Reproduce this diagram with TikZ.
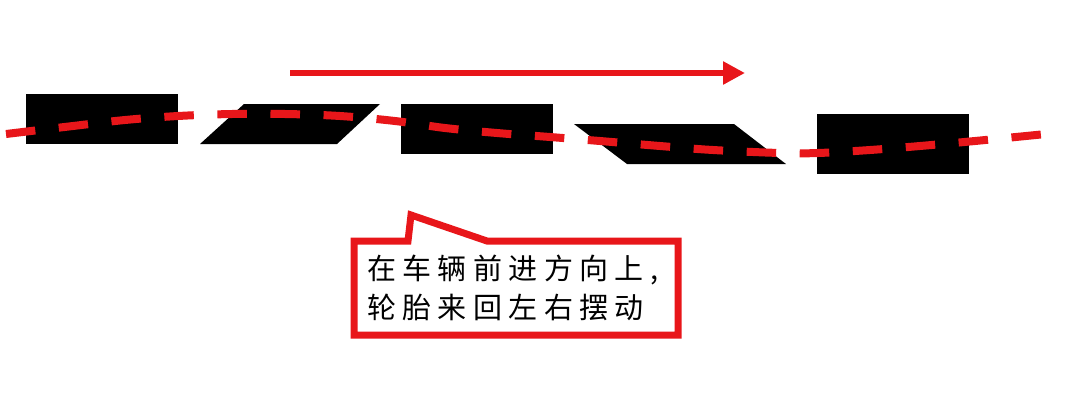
\documentclass[tikz,border=0pt]{standalone}
\usepackage{fontspec}
\newfontfamily\cjk[LetterSpace=22]{Noto Sans CJK SC}
\usetikzlibrary{arrows.meta}
\definecolor{myred}{RGB}{232,22,26}
\tikzset{
  tire/.style={fill=black},
  wave/.style={draw=myred, line width=8pt, dash pattern=on 29.5pt off 23.6pt},
  dirarrow/.style={draw=myred, line width=6.5pt, -{Triangle[length=22pt,width=22pt]}},
  callout/.style={draw=myred, fill=white, line width=7pt, line join=miter},
  calltext/.style={font=\cjk\fontsize{29}{39}\selectfont, align=left, anchor=north west, inner sep=0pt}
}
\begin{document}
\begin{tikzpicture}[x=1pt,y=-1pt]
\useasboundingbox (0,0) rectangle (1080,416);
% tires
\fill[tire] (26,94) rectangle (178,144);
\fill[tire] (244,104) -- (380,104) -- (337,144) -- (200,144) -- cycle;
\fill[tire] (401,104) rectangle (553,154);
\fill[tire] (574,124) -- (734,124) -- (786,164) -- (627,164) -- cycle;
\fill[tire] (817,114) rectangle (969,174);
% track
\draw[wave] plot[smooth, tension=0.6] coordinates {(6,134) (73,126) (125,120) (178,116) (232,114) (285,114) (340,116) (395,121) (445,128) (497,133) (550,137) (600,141) (660,146) (713,150) (780,153) (818,153) (870,150) (920,146) (975,141) (1046,134)};
% direction arrow
\coordinate (a1) at (290,73);
\coordinate (a2) at (745,73);
\draw[dirarrow] (a1) -- (a2);
% callout
\draw[callout] (354,241) -- (408,241) -- (411,215) -- (487,241) -- (678,241) -- (678,335) -- (354,335) -- cycle;
\node[calltext] (txt) at (367,255) {在车辆前进方向上,\\轮胎来回左右摆动};
\end{tikzpicture}
\end{document}
